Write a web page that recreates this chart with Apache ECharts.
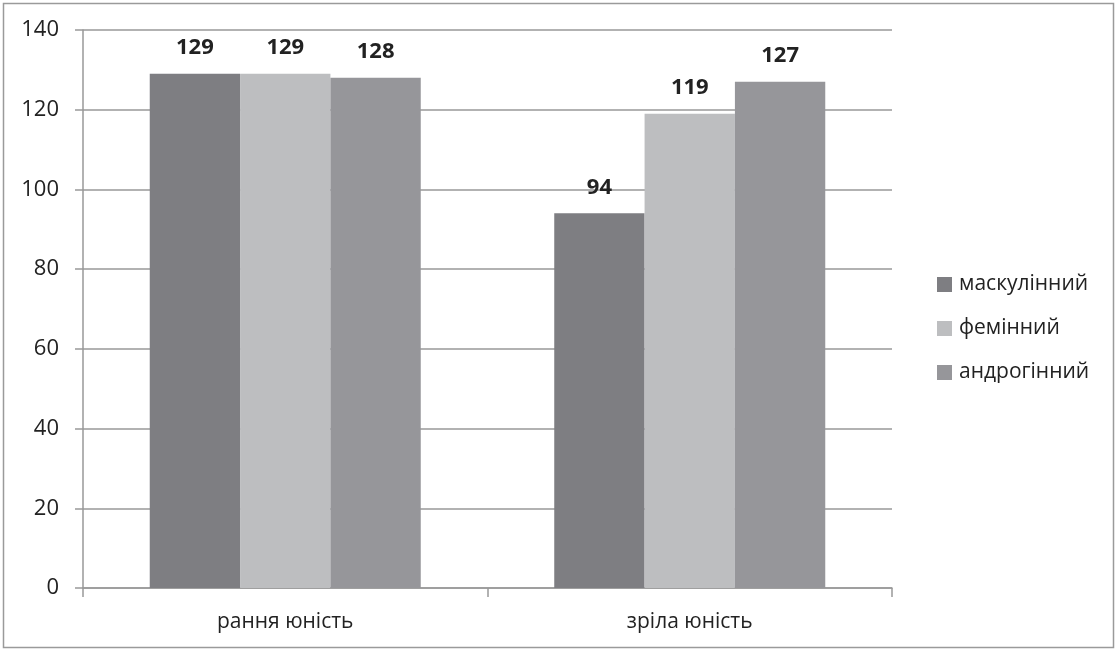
<!DOCTYPE html>
<html><head><meta charset="utf-8">
<script src="https://cdn.jsdelivr.net/npm/echarts@6/dist/echarts.min.js"></script>
<style>html,body{margin:0;padding:0;background:#fff}#c{width:1118px;height:652px}</style>
</head><body><div id="c"></div>
<script>
const categories = ['рання юність', 'зріла юність'];
const seriesNames = ['маскулінний', 'фемінний', 'андрогінний'];
const masculine = [129, 94];
const feminine = [129, 119];
const androgynous = [128, 127];
const colors = ['#7e7e82', '#bdbec0', '#96969a'];
const font = '"Open Sans", "Noto Sans", sans-serif';
const chart = echarts.init(document.getElementById('c'));
const data = [masculine, feminine, androgynous];
chart.setOption({
  animation: false,
  graphic: [{type: 'rect', shape: {x: 3.5, y: 3.5, width: 1110, height: 644}, style: {fill: 'none', stroke: '#9a9a9a', lineWidth: 1.5}}],
  legend: {
    orient: 'vertical', left: 932, top: 269, itemGap: 23, itemWidth: 15, itemHeight: 15,
    icon: 'rect',
    textStyle: {fontFamily: font, fontSize: 21, color: '#222', padding: [0, 0, 0, 2]},
    data: seriesNames
  },
  grid: {left: 83, right: 226, top: 30, bottom: 64},
  xAxis: {
    type: 'category', data: categories,
    axisLine: {lineStyle: {color: '#999', width: 1.5}},
    axisTick: {show: true, length: 9, lineStyle: {color: '#999', width: 1.5}},
    axisLabel: {fontFamily: font, fontSize: 21, color: '#222', margin: 24}
  },
  yAxis: {
    type: 'value', min: 0, max: 140, interval: 20,
    axisLine: {show: true, lineStyle: {color: '#999', width: 1.5}},
    axisTick: {show: true, inside: false, length: 8, lineStyle: {color: '#999', width: 1.5}},
    splitLine: {lineStyle: {color: '#999', width: 1.5}},
    axisLabel: {fontFamily: font, fontSize: 22, color: '#222', margin: 24}
  },
  series: seriesNames.map((n, i) => ({
    name: n, type: 'bar', data: data[i], barGap: '0%', barCategoryGap: '33%',
    itemStyle: {color: colors[i]},
    label: {show: true, position: 'top', distance: 15, fontFamily: font, fontSize: 22, fontWeight: 'bold', color: '#222'}
  }))
});
</script></body></html>
